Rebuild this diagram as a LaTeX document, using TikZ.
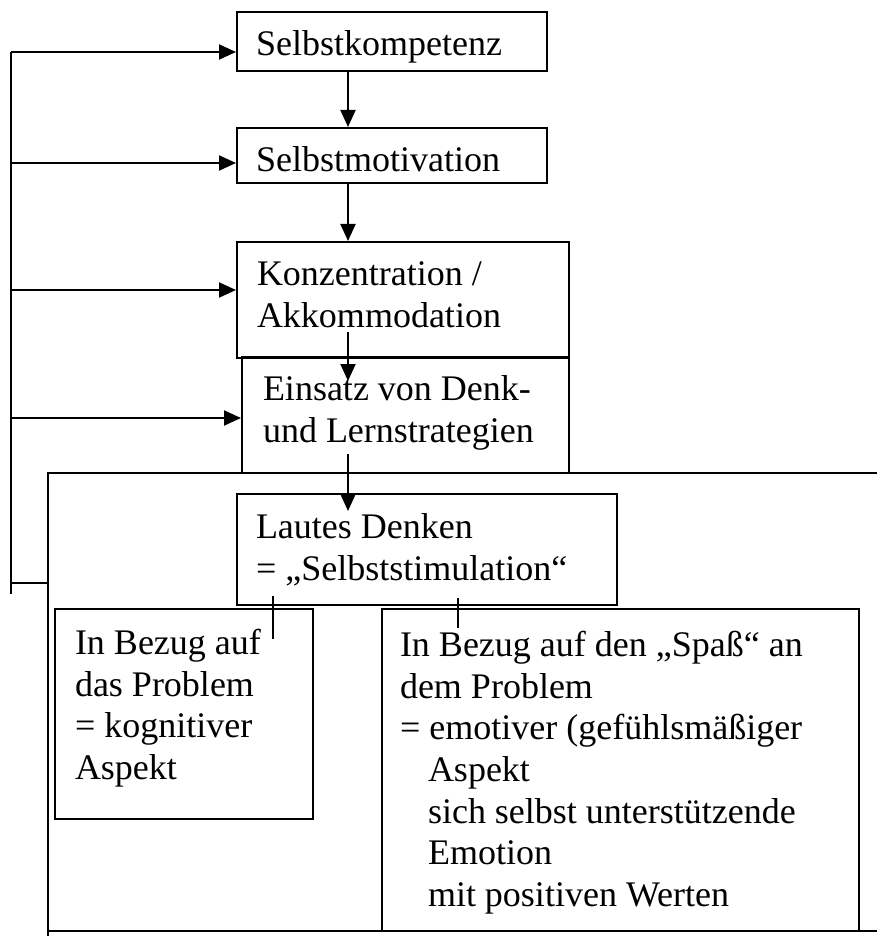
\documentclass[tikz,border=0pt]{standalone}
\usepackage{fontspec}
\setmainfont{Liberation Serif}
\usetikzlibrary{arrows.meta}

\begin{document}
\begin{tikzpicture}[x=0.5pt,y=-0.5pt,line width=1pt,
    kasten/.style={rectangle,draw,anchor=north west,inner sep=0pt},
    schrift/.style={anchor=north west,align=left,inner sep=0pt,font=\fontsize{18}{20.85}\selectfont},
    pfeil/.style={-{Triangle[length=8.5pt,width=7.5pt]}}]
    \useasboundingbox (0,0) rectangle (877,936);

    % Kaesten oben
    \node[kasten,minimum width=155pt,minimum height=29.5pt] (kompetenz) at (236,11) {};
    \node[schrift] (tkompetenz) at (255,30) {Selbstkompetenz};

    \node[kasten,minimum width=155pt,minimum height=27.5pt] (motivation) at (236,127) {};
    \node[schrift] (tmotivation) at (255,146) {Selbstmotivation};

    \node[kasten,minimum width=166pt,minimum height=58pt] (konzentration) at (236,241) {};
    \node[schrift] (tkonzentration) at (256,261) {Konzentration /\\Akkommodation};

    \node[kasten,minimum width=163.5pt,minimum height=58pt] (einsatz) at (241,356) {};
    \node[schrift] (teinsatz) at (262,375) {Einsatz von Denk-\\und Lernstrategien};

    % Rahmen unten
    \draw (48,936) -- (48,473) -- (877,473);
    \draw (48,931) -- (877,931);

    \node[kasten,minimum width=190pt,minimum height=55.5pt] (lautes) at (236,493) {};
    \node[schrift] (tlautes) at (255,513) {Lautes Denken\\= „Selbststimulation“};

    \node[kasten,minimum width=129pt,minimum height=105pt] (kognitiv) at (54,608) {};
    \node[schrift] (tkognitiv) at (74,628) {In Bezug auf\\das Problem\\= kognitiver\\Aspekt};

    \node[kasten,minimum width=238.5pt,minimum height=161pt] (emotiv) at (381,608) {};
    \node[schrift] (temotiv) at (399,630) {In Bezug auf den „Spaß“ an\\dem Problem\\= emotiver (gefühlsmäßiger\\
        \hspace*{14pt}Aspekt\\\hspace*{14pt}sich selbst unterstützende\\\hspace*{14pt}Emotion\\\hspace*{14pt}mit positiven Werten};

    % Rueckfuehrung links
    \coordinate (fb1) at (11,52);
    \coordinate (fb2) at (11,163);
    \coordinate (fb3) at (11,290);
    \coordinate (fb4) at (11,418);
    \coordinate (fbende) at (11,594);
    \coordinate (fbknick) at (11,583);
    \draw (fb1) -- (fbende);
    \draw (fbknick) -- (fbknick -| 48,0);
    \draw[pfeil] (fb1) -- (fb1 -| kompetenz.west);
    \draw[pfeil] (fb2) -- (fb2 -| motivation.west);
    \draw[pfeil] (fb3) -- (fb3 -| konzentration.west);
    \draw[pfeil] (fb4) -- (fb4 -| einsatz.west);

    % Pfeile in der Mitte
    \coordinate (achse) at (348,0);
    \coordinate (p3start) at (348,332);
    \coordinate (p3ende) at (348,381);
    \coordinate (p4start) at (348,454);
    \coordinate (p4ende) at (348,511);
    \draw[pfeil] (kompetenz.south -| achse) -- (motivation.north -| achse);
    \draw[pfeil] (motivation.south -| achse) -- (konzentration.north -| achse);
    \draw[pfeil] (p3start) -- (p3ende);
    \draw[pfeil] (p4start) -- (p4ende);

    % kurze Striche
    \coordinate (s1a) at (273,596);
    \coordinate (s1b) at (273,639);
    \coordinate (s2a) at (458,598);
    \coordinate (s2b) at (458,628);
    \draw (s1a) -- (s1b);
    \draw (s2a) -- (s2b);
\end{tikzpicture}
\end{document}
